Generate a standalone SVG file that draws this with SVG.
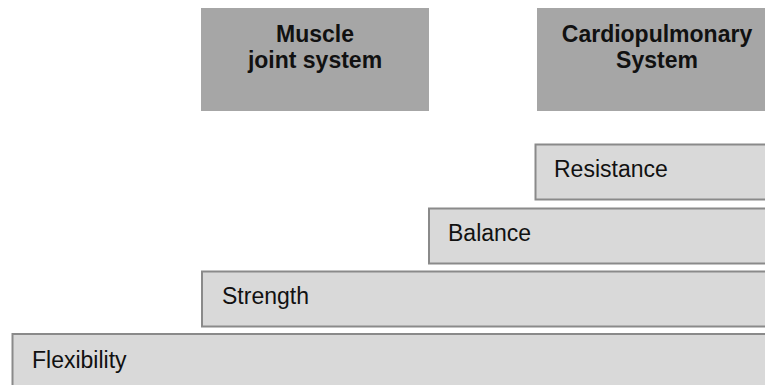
<svg xmlns="http://www.w3.org/2000/svg" width="765" height="385" viewBox="0 0 765 385">
<style>
.hdr{fill:#a6a6a6;stroke:none}
.lvl{fill:#d9d9d9;stroke:#8a8a8a;stroke-width:2}
.ht{font-family:"Liberation Sans",Arial,sans-serif;font-size:23px;font-weight:bold;fill:#111;text-anchor:middle}
.lt{font-family:"Liberation Sans",Arial,sans-serif;font-size:23px;fill:#111}
</style>
<rect width="765" height="385" fill="#ffffff"/>
<g id="muscle">
<rect class="hdr" x="201" y="8" width="228" height="103"/>
<text class="ht" x="315" y="41.5">Muscle</text>
<text class="ht" x="315" y="68">joint system</text>
</g>
<g id="cardio">
<rect class="hdr" x="537" y="8" width="242" height="103"/>
<text class="ht" x="657" y="41.5">Cardiopulmonary</text>
<text class="ht" x="657" y="68">System</text>
</g>
<g id="resistance">
<rect class="lvl" x="535.5" y="144.5" width="260" height="55"/>
<text class="lt" x="554" y="177.3">Resistance</text>
</g>
<g id="balance">
<rect class="lvl" x="429" y="208.5" width="360" height="55"/>
<text class="lt" x="448" y="241">Balance</text>
</g>
<g id="strength">
<rect class="lvl" x="202" y="271.5" width="590" height="55"/>
<text class="lt" x="222" y="304">Strength</text>
</g>
<g id="flexibility">
<rect class="lvl" x="12.5" y="334" width="780" height="60"/>
<text class="lt" x="32" y="367.7">Flexibility</text>
</g>
<g id="connectors"></g>
</svg>
